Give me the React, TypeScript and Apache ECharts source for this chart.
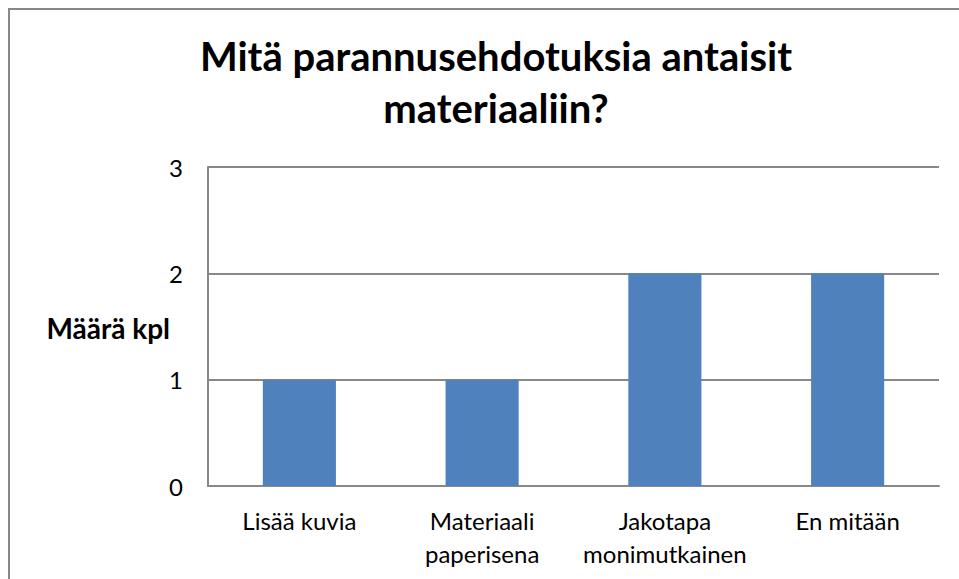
import React, { useEffect, useRef } from "react";
import * as echarts from "echarts";

const categories = ["Lisää kuvia", "Materiaali\npaperisena", "Jakotapa\nmonimutkainen", "En mitään"];
const values = [1, 1, 2, 2];
const titleLines = ["Mitä parannusehdotuksia antaisit", "materiaaliin?"];
const yAxisName = "Määrä kpl";

const FONT = "Lato, 'Open Sans', sans-serif";

export default function App() {
  const ref = useRef<HTMLDivElement>(null);
  useEffect(() => {
    if (!ref.current) return;
    const chart = echarts.init(ref.current, null, { renderer: "svg" });
    chart.setOption({
      animation: false,
      backgroundColor: "#ffffff",
      textStyle: { fontFamily: FONT },
      title: {
        text: titleLines.join("\n"),
        left: 491,
        top: 25,
        textAlign: "center",
        textStyle: { fontFamily: FONT, fontSize: 40, fontWeight: "bold", color: "#000", lineHeight: 52 },
      },
      graphic: [
        {
          type: "rect",
          shape: { x: 9, y: 9, width: 1000, height: 700 },
          style: { fill: "none", stroke: "#888888", lineWidth: 2 },
          silent: true,
          z: -1,
        },
        {
          type: "text",
          x: 170,
          y: 328,
          style: {
            text: yAxisName,
            fontFamily: FONT,
            fontSize: 28,
            fontWeight: "bold",
            fill: "#000",
            align: "right",
            verticalAlign: "middle",
          },
        },
      ],
      grid: { left: 208, top: 167, right: 20, bottom: 93, containLabel: false },
      xAxis: {
        type: "category",
        data: categories,
        axisLine: { show: true, lineStyle: { color: "#888888", width: 2 } },
        axisTick: { show: false },
        axisLabel: {
          interval: 0,
          margin: 18,
          fontFamily: FONT,
          fontSize: 24,
          color: "#000",
          lineHeight: 33,
          verticalAlign: "top",
        },
      },
      yAxis: {
        type: "value",
        min: 0,
        max: 3,
        interval: 1,
        axisLine: { show: true, lineStyle: { color: "#888888", width: 2 } },
        axisTick: { show: false },
        splitLine: { show: true, lineStyle: { color: "#888888", width: 2 } },
        axisLabel: { margin: 25, fontFamily: FONT, fontSize: 24, color: "#000" },
      },
      series: [
        {
          type: "bar",
          data: values,
          barWidth: "40%",
          itemStyle: { color: "#4f81bd" },
        },
      ],
    });
    return () => chart.dispose();
  }, []);
  return (
    <div
      ref={ref}
      style={{ position: "absolute", left: 0, top: 0, width: 959, height: 579 }}
    />
  );
}
